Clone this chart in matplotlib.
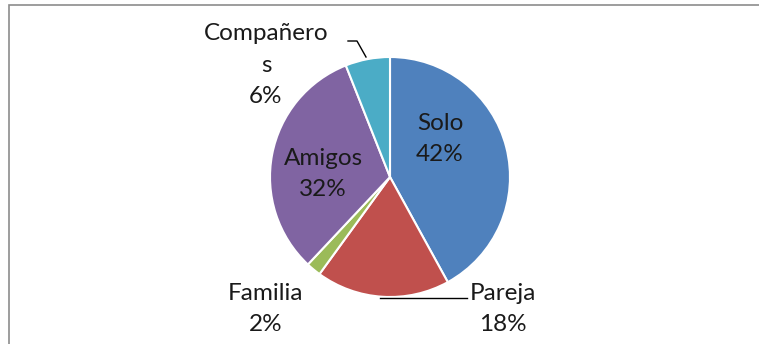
import matplotlib
matplotlib.use('Agg')
import matplotlib.pyplot as plt

labels = ["Solo", "Pareja", "Familia", "Amigos", "Compañeros"]
values = [42, 18, 2, 32, 6]
colors = ["#4F81BD", "#C0504D", "#9BBB59", "#8064A2", "#4BACC6"]

W, H = 759, 344
fig = plt.figure(figsize=(W / 100, H / 100), dpi=100)
ax = fig.add_axes([0, 0, 1, 1])
plt.rcParams['font.family'] = ['Lato', 'DejaVu Sans']

cx, cy, r = 390, H - 177, 120
ax.pie(values, colors=colors, startangle=90, counterclock=False,
       center=(cx, cy), radius=r,
       wedgeprops=dict(edgecolor="white", linewidth=1.5))

ax.set_xlim(0, W)
ax.set_ylim(0, H)
ax.set_aspect("equal")
ax.axis("off")

# chart frame (cut off at right and bottom)
ax.plot([9, 9, W + 2], [-2, H - 5, H - 5], color="#8C8C8C", lw=1.2,
        solid_joinstyle="miter", clip_on=False)

fs = 17.5
txt = dict(fontsize=fs, ha="center", va="center", color="#1a1a1a",
           linespacing=1.6)
ax.text(440, H - 139, f"{labels[0]}\n{values[0]}%", **txt)
ax.text(323, H - 174, f"{labels[3]}\n{values[3]}%", **txt)
ax.text(503, H - 309, f"{labels[1]}\n{values[1]}%", **txt)
ax.text(266, H - 309, f"{labels[2]}\n{values[2]}%", **txt)
ax.text(266, H - 65, "Compañero\ns\n" + f"{values[4]}%", **txt)

# leader lines
ax.plot([348, 357, 366], [H - 41, H - 41, H - 57], color="black", lw=1)
ax.plot([380, 467], [H - 298, H - 298], color="black", lw=1)

fig.savefig("out.png", dpi=100)
